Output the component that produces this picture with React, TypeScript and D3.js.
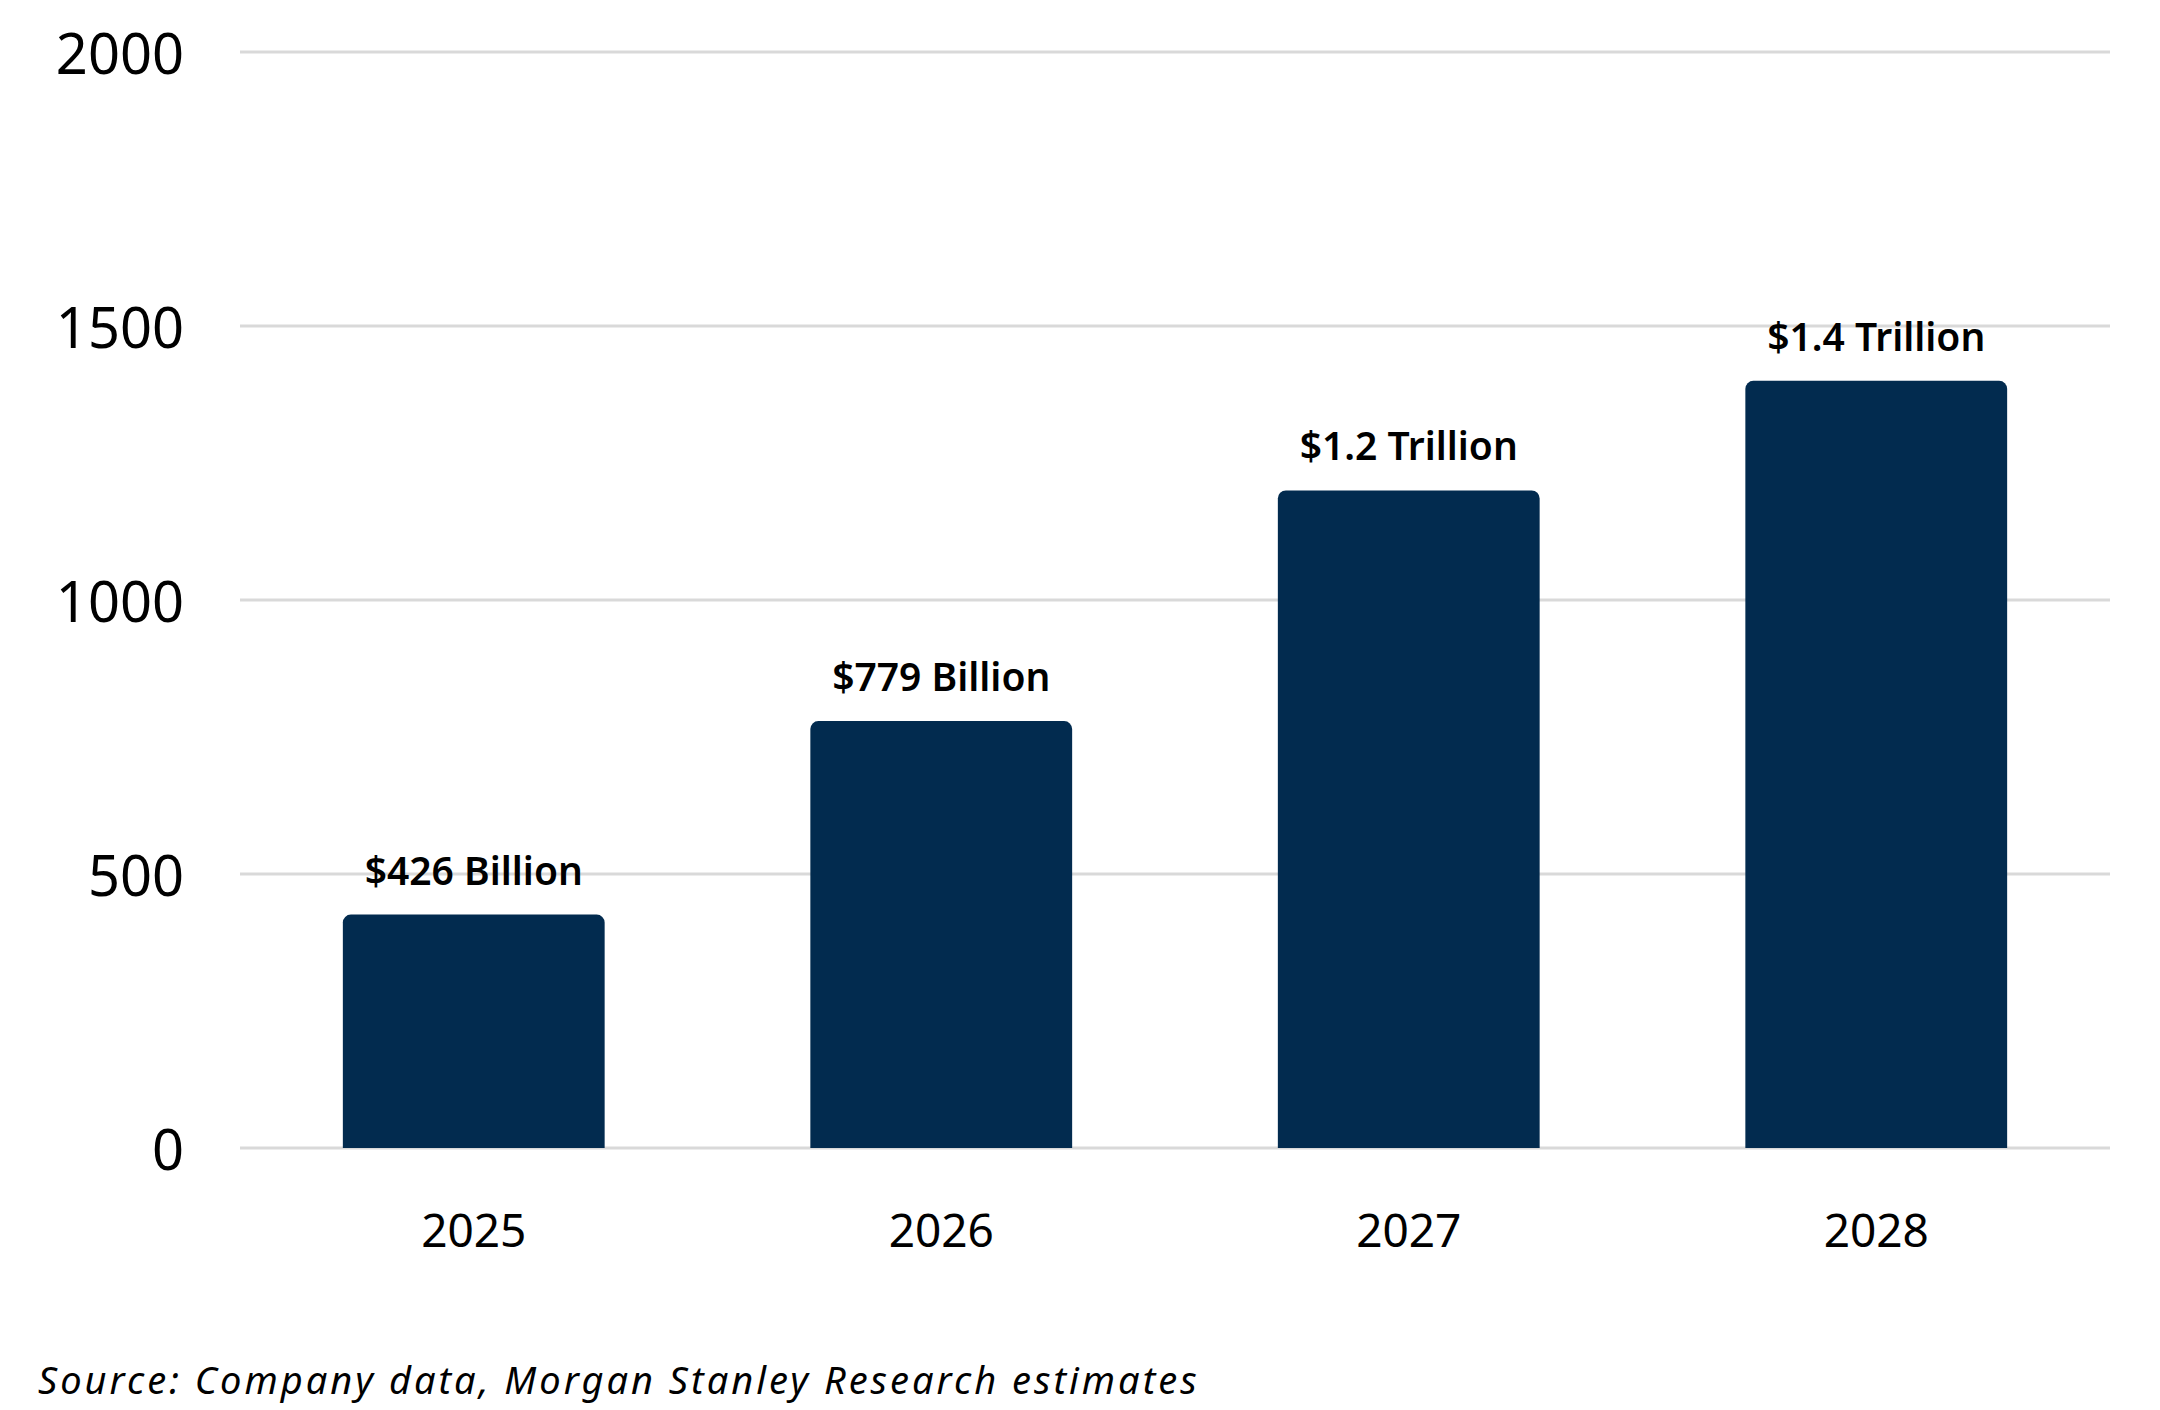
import React from "react";
import * as d3 from "d3";

const years: string[] = ["2025", "2026", "2027", "2028"];
const values: number[] = [426, 779, 1200, 1400];
const valueLabels: string[] = ["$426 Billion", "$779 Billion", "$1.2 Trillion", "$1.4 Trillion"];
const yTicks: number[] = [0, 500, 1000, 1500, 2000];
const sourceNote = "Source: Company data, Morgan Stanley Research estimates";

const W = 2160;
const H = 1410;
const BAR = "#022b4f";
const GRID = "#d9d9d9";

if (typeof document !== "undefined") {
  document.body.style.margin = "0";
}

function topRoundedRect(x: number, y: number, w: number, h: number, r: number): string {
  const rr = Math.min(r, w / 2, h);
  const p = d3.path();
  p.moveTo(x, y + h);
  p.lineTo(x, y + rr);
  p.arcTo(x, y, x + rr, y, rr);
  p.lineTo(x + w - rr, y);
  p.arcTo(x + w, y, x + w, y + rr, rr);
  p.lineTo(x + w, y + h);
  p.closePath();
  return p.toString();
}

export default function App() {
  const x = d3.scaleBand<string>().domain(years).range([240, 2110]).paddingInner(0.44).paddingOuter(0.22);
  const y = d3.scaleLinear().domain([0, 2000]).range([1148, 52]);
  const font = "'Noto Sans', 'Open Sans', sans-serif";

  return (
    <svg width={W} height={H} viewBox={`0 0 ${W} ${H}`} style={{ display: "block", background: "#fff" }}>
      <g>
        {yTicks.map((t) => (
          <g key={t}>
            <line x1={240} x2={2110} y1={y(t)} y2={y(t)} stroke={GRID} strokeWidth={3} />
            <text
              x={184}
              y={y(t)}
              textAnchor="end"
              dominantBaseline="central"
              fontFamily={font}
              fontSize={56}
              fill="#000"
            >
              {t}
            </text>
          </g>
        ))}
      </g>
      <g>
        {years.map((yr, i) => {
          const bx = x(yr) as number;
          const bw = x.bandwidth();
          const top = y(values[i]);
          return (
            <g key={yr}>
              <path d={topRoundedRect(bx, top, bw, y(0) - top, 8)} fill={BAR} />
              <text
                x={bx + bw / 2}
                y={top - 30}
                textAnchor="middle"
                fontFamily={font}
                fontWeight={600}
                fontSize={39}
                fill="#000"
              >
                {valueLabels[i]}
              </text>
              <text
                x={bx + bw / 2}
                y={1247}
                textAnchor="middle"
                fontFamily={font}
                fontSize={46}
                fill="#000"
              >
                {yr}
              </text>
            </g>
          );
        })}
      </g>
      <text x={38} y={1394} fontFamily={font} fontStyle="italic" fontSize={38} letterSpacing={3} fill="#000">
        {sourceNote}
      </text>
    </svg>
  );
}
